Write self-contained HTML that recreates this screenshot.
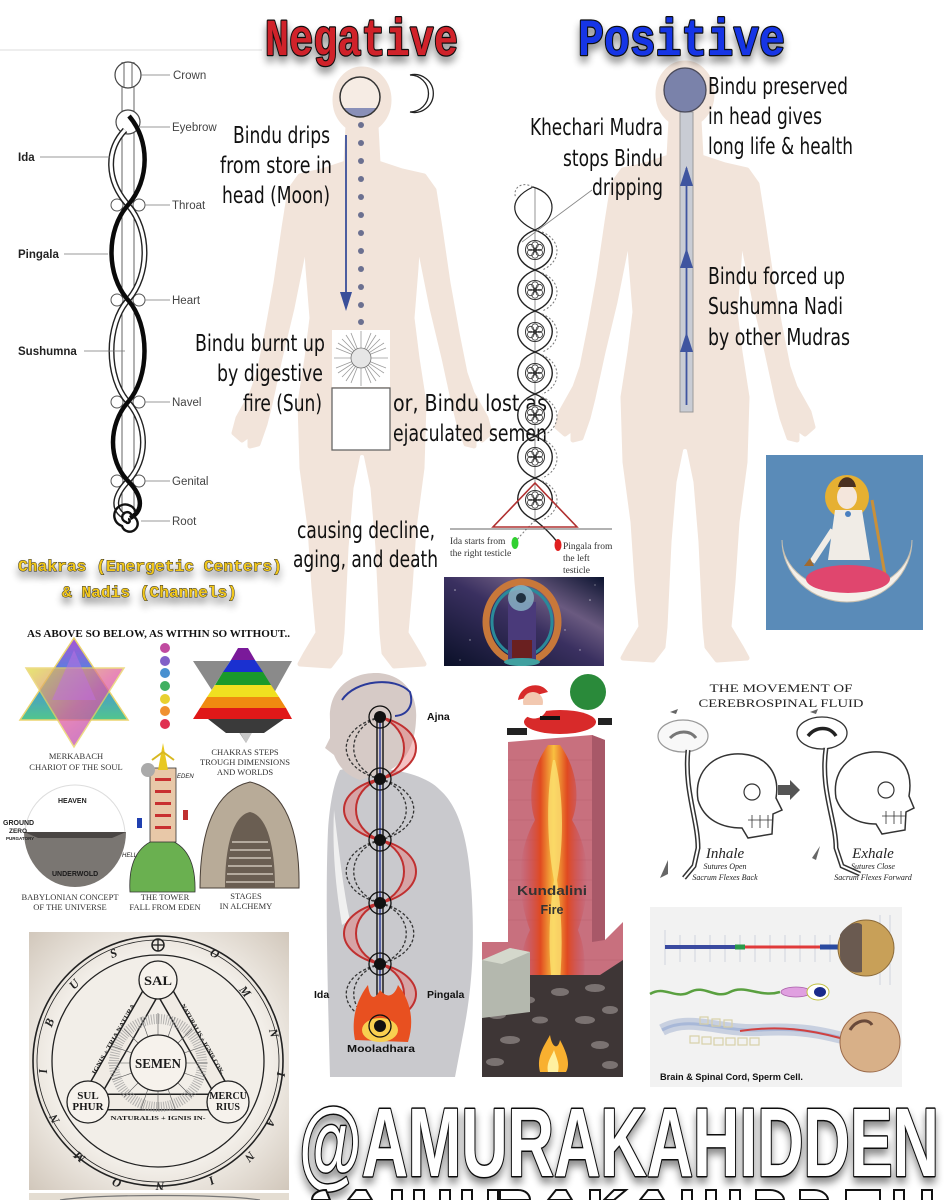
<!DOCTYPE html>
<html><head><meta charset="utf-8"><style>
html,body{margin:0;padding:0;background:#fff;width:944px;height:1200px;overflow:hidden;}
svg{display:block;}
</style></head><body>
<svg width="944" height="1200" viewBox="0 0 944 1200" xmlns="http://www.w3.org/2000/svg" overflow="hidden">
<defs>
<filter id="sh" x="-20%" y="-40%" width="140%" height="200%"><feGaussianBlur in="SourceAlpha" stdDeviation="4"/><feOffset dx="0" dy="6"/><feComponentTransfer><feFuncA type="linear" slope="0.45"/></feComponentTransfer><feMerge><feMergeNode/><feMergeNode in="SourceGraphic"/></feMerge></filter>
<linearGradient id="neb" x1="0" y1="1" x2="1" y2="0"><stop offset="0" stop-color="#0a1028"/><stop offset="0.5" stop-color="#3a3060"/><stop offset="0.7" stop-color="#6a5a80"/><stop offset="1" stop-color="#0c1430"/></linearGradient>
<linearGradient id="mkU" x1="0" y1="0" x2="0" y2="1"><stop offset="0" stop-color="#a040d0"/><stop offset="0.5" stop-color="#3080e0"/><stop offset="1" stop-color="#40c080"/></linearGradient>
<linearGradient id="mkD" x1="0" y1="0" x2="1" y2="1"><stop offset="0" stop-color="#e0e040"/><stop offset="0.5" stop-color="#e060a0"/><stop offset="1" stop-color="#a040c0"/></linearGradient>
<radialGradient id="semBg" cx="0.5" cy="0.5" r="0.7"><stop offset="0.6" stop-color="#f2eee8"/><stop offset="1" stop-color="#d2c8bc"/></radialGradient>
<linearGradient id="fireG" x1="0" y1="0" x2="1" y2="0"><stop offset="0" stop-color="#c84050" stop-opacity="0"/><stop offset="0.3" stop-color="#e04a20"/><stop offset="0.5" stop-color="#f8c040"/><stop offset="0.7" stop-color="#e04a20"/><stop offset="1" stop-color="#c84050" stop-opacity="0"/></linearGradient>
<g id="lotus"><circle r="9.5" fill="#fff" stroke="#333" stroke-width="1"/><circle cx="0" cy="-5" r="3.2" fill="none" stroke="#333" stroke-width="0.8"/><circle cx="4.3" cy="-2.5" r="3.2" fill="none" stroke="#333" stroke-width="0.8"/><circle cx="4.3" cy="2.5" r="3.2" fill="none" stroke="#333" stroke-width="0.8"/><circle cx="0" cy="5" r="3.2" fill="none" stroke="#333" stroke-width="0.8"/><circle cx="-4.3" cy="2.5" r="3.2" fill="none" stroke="#333" stroke-width="0.8"/><circle cx="-4.3" cy="-2.5" r="3.2" fill="none" stroke="#333" stroke-width="0.8"/><circle r="1.8" fill="#333"/></g>
<g id="body"><ellipse cx="0" cy="32" rx="29" ry="33"/><polygon stroke-linejoin="round" stroke-width="5" points="14,58 16,95 40,103 62,108 72,122 78,160 86,215 95,265 103,305 110,325 124,350 128,365 120,372 112,366 112,378 104,376 97,356 92,336 82,290 70,240 60,190 56,168 54,200 50,250 55,290 62,335 60,400 52,460 48,520 44,565 56,585 62,596 32,598 22,585 20,565 16,480 11,420 4,386 0,384 -4,386 -11,420 -16,480 -20,565 -22,585 -32,598 -62,596 -56,585 -44,565 -48,520 -52,460 -60,400 -62,335 -55,290 -50,250 -54,200 -56,168 -60,190 -70,240 -82,290 -92,336 -97,356 -104,376 -112,378 -112,366 -120,372 -128,365 -124,350 -110,325 -103,305 -95,265 -86,215 -78,160 -72,122 -62,108 -40,103 -16,95 -14,58"/></g>
<clipPath id="headClip"><circle cx="360" cy="97" r="20"/></clipPath>
</defs>

<rect width="944" height="1200" fill="#fff"/>
<line x1="0" y1="50" x2="262" y2="50" stroke="#e8e8e8" stroke-width="1.5"/>

<!-- bodies -->
<use href="#body" x="362" y="68" fill="#f2e4da" stroke="#f2e4da"/>
<use href="#body" x="685" y="62" fill="#f2e4da" stroke="#f2e4da"/>

<!-- header -->
<g filter="url(#sh)" font-family="'Liberation Mono', monospace" font-weight="bold" font-size="52" stroke="#111" stroke-width="2.5" paint-order="stroke" stroke-linejoin="round">
<text x="265" y="55" fill="#d0202a" textLength="193" lengthAdjust="spacingAndGlyphs">Negative</text>
<text x="578" y="55" fill="#1236e6" textLength="207" lengthAdjust="spacingAndGlyphs">Positive</text>
</g>

<!-- left head -->
<circle cx="360" cy="97" r="20" fill="#f6ece4"/>
<rect x="330" y="108" width="60" height="20" fill="#8a90b8" clip-path="url(#headClip)"/>
<circle cx="360" cy="97" r="20" fill="none" stroke="#333" stroke-width="1.5"/>
<path d="M410,75 A19,19 0 1 1 410,112 A15,15 0 1 0 410,75 Z" fill="#fff" stroke="#222" stroke-width="1.3"/>
<g fill="#6b7090">
<circle cx="361" cy="125" r="3"/><circle cx="361" cy="143" r="3"/><circle cx="361" cy="161" r="3"/><circle cx="361" cy="179" r="3"/><circle cx="361" cy="197" r="3"/><circle cx="361" cy="215" r="3"/><circle cx="361" cy="233" r="3"/><circle cx="361" cy="251" r="3"/><circle cx="361" cy="269" r="3"/><circle cx="361" cy="287" r="3"/><circle cx="361" cy="305" r="3"/><circle cx="361" cy="322" r="3"/>
</g>
<line x1="346" y1="135" x2="346" y2="296" stroke="#3a4f9a" stroke-width="1.8"/>
<polygon points="340,292 352,292 346,311" fill="#3a4f9a"/>
<rect x="332" y="330" width="58" height="57" fill="#fff"/>
<g stroke="#9a9a9a" stroke-width="0.8">
<line x1="361" y1="331" x2="361" y2="386"/><line x1="334" y1="358" x2="388" y2="358"/><line x1="342" y1="339" x2="380" y2="377"/><line x1="380" y1="339" x2="342" y2="377"/>
<line x1="351" y1="333" x2="371" y2="383"/><line x1="371" y1="333" x2="351" y2="383"/><line x1="336" y1="348" x2="386" y2="368"/><line x1="336" y1="368" x2="386" y2="348"/>
<line x1="346" y1="335" x2="376" y2="381"/><line x1="376" y1="335" x2="346" y2="381"/><line x1="338" y1="343" x2="384" y2="373"/><line x1="338" y1="373" x2="384" y2="343"/>
</g>
<circle cx="361" cy="358" r="10" fill="#e6e6e6" stroke="#777" stroke-width="0.8"/>
<rect x="332" y="388" width="58" height="62" fill="#fff" stroke="#666" stroke-width="1.3"/>

<!-- right head -->
<rect x="680" y="112" width="13" height="300" fill="#c9ccd4" stroke="#9a9a9a" stroke-width="1"/>
<ellipse cx="685" cy="90" rx="21" ry="22" fill="#7a82aa" stroke="#4a4a5a" stroke-width="1.3"/>
<line x1="686.5" y1="168" x2="686.5" y2="405" stroke="#3f55a0" stroke-width="1.8"/>
<polygon points="680,186 693,186 686.5,166" fill="#3f55a0"/>
<polygon points="680,268 693,268 686.5,248" fill="#3f55a0"/>
<polygon points="680,352 693,352 686.5,332" fill="#3f55a0"/>

<!-- body texts -->
<g font-family="'DejaVu Sans Condensed','DejaVu Sans','Liberation Sans',sans-serif" font-size="23" fill="#111">
<text x="233" y="143" textLength="97" lengthAdjust="spacingAndGlyphs">Bindu drips</text>
<text x="220" y="173" textLength="112" lengthAdjust="spacingAndGlyphs">from store in</text>
<text x="222" y="203" textLength="108" lengthAdjust="spacingAndGlyphs">head (Moon)</text>
<text x="195" y="351" textLength="130" lengthAdjust="spacingAndGlyphs">Bindu burnt up</text>
<text x="217" y="381" textLength="106" lengthAdjust="spacingAndGlyphs">by digestive</text>
<text x="243" y="411" textLength="79" lengthAdjust="spacingAndGlyphs">fire (Sun)</text>
<text x="393" y="411" textLength="154" lengthAdjust="spacingAndGlyphs">or, Bindu lost as</text>
<text x="393" y="441" textLength="154" lengthAdjust="spacingAndGlyphs">ejaculated semen</text>
<text x="297" y="538" textLength="138" lengthAdjust="spacingAndGlyphs">causing decline,</text>
<text x="293" y="567" textLength="145" lengthAdjust="spacingAndGlyphs">aging, and death</text>
<text x="530" y="135" textLength="133" lengthAdjust="spacingAndGlyphs">Khechari Mudra</text>
<text x="563" y="166" textLength="100" lengthAdjust="spacingAndGlyphs">stops Bindu</text>
<text x="592" y="195" textLength="71" lengthAdjust="spacingAndGlyphs">dripping</text>
<text x="708" y="94" textLength="140" lengthAdjust="spacingAndGlyphs">Bindu preserved</text>
<text x="708" y="124" textLength="114" lengthAdjust="spacingAndGlyphs">in head gives</text>
<text x="708" y="154" textLength="145" lengthAdjust="spacingAndGlyphs">long life &amp; health</text>
<text x="708" y="284" textLength="137" lengthAdjust="spacingAndGlyphs">Bindu forced up</text>
<text x="708" y="314" textLength="135" lengthAdjust="spacingAndGlyphs">Sushumna Nadi</text>
<text x="708" y="345" textLength="142" lengthAdjust="spacingAndGlyphs">by other Mudras</text>
</g>

<!-- left chakra diagram -->
<g fill="none" stroke="#555" stroke-width="0.9">
<line x1="122" y1="62" x2="122" y2="512"/><line x1="134" y1="62" x2="134" y2="512"/>
<line x1="128" y1="62" x2="128" y2="88"/>
</g>
<circle cx="128" cy="75" r="13" fill="#fff" stroke="#444" stroke-width="1.2"/>
<line x1="124" y1="62" x2="124" y2="88" stroke="#555" stroke-width="0.9"/><line x1="132" y1="62" x2="132" y2="88" stroke="#555" stroke-width="0.9"/>
<circle cx="128" cy="122" r="12" fill="#fff" stroke="#444" stroke-width="1.2"/>
<g fill="#fff" stroke="#555" stroke-width="1">
<circle cx="117" cy="205" r="6"/><circle cx="139" cy="205" r="6"/>
<circle cx="117" cy="300" r="6"/><circle cx="139" cy="300" r="6"/>
<circle cx="117" cy="402" r="6"/><circle cx="139" cy="402" r="6"/>
<circle cx="117" cy="481" r="6"/><circle cx="139" cy="481" r="6"/>
</g>
<path d="M125,130 C106,150 106,180 128,205 C150,230 150,275 128,300 C106,325 106,377 128,402 C148,425 148,460 128,481 C112,498 114,510 124,516" fill="none" stroke="#222" stroke-width="6"/>
<path d="M125,130 C106,150 106,180 128,205 C150,230 150,275 128,300 C106,325 106,377 128,402 C148,425 148,460 128,481 C112,498 114,510 124,516" fill="none" stroke="#fff" stroke-width="3.2"/>
<path d="M129,116 C150,140 150,180 128,205 C106,230 106,275 128,300 C150,325 150,377 128,402 C108,425 108,460 128,481 C145,498 142,512 130,518" fill="none" stroke="#0a0a0a" stroke-width="4.5"/>
<path d="M128,521 m0,-2 a2,2 0 1 1 -2,3 a5,5 0 1 1 6,-6 a8,8 0 1 1 -10,10 a11,11 0 1 1 14,-13" fill="none" stroke="#111" stroke-width="2.4"/>
<g stroke="#777" stroke-width="0.8">
<line x1="141" y1="75" x2="170" y2="75"/><line x1="140" y1="127" x2="170" y2="127"/><line x1="145" y1="205" x2="170" y2="205"/><line x1="145" y1="300" x2="170" y2="300"/><line x1="145" y1="402" x2="170" y2="402"/><line x1="145" y1="481" x2="170" y2="481"/><line x1="141" y1="521" x2="170" y2="521"/>
<line x1="40" y1="157" x2="110" y2="157"/><line x1="64" y1="254" x2="108" y2="254"/><line x1="84" y1="351" x2="125" y2="351"/>
</g>
<g font-family="'Liberation Sans',Arial,sans-serif" font-size="11.5" fill="#444">
<text x="173" y="79">Crown</text><text x="172" y="131">Eyebrow</text><text x="172" y="209">Throat</text><text x="172" y="304">Heart</text><text x="172" y="406">Navel</text><text x="172" y="485">Genital</text><text x="172" y="525">Root</text>
<text x="18" y="161" font-weight="bold" fill="#222">Ida</text><text x="18" y="258" font-weight="bold" fill="#222">Pingala</text><text x="18" y="355" font-weight="bold" fill="#222">Sushumna</text>
</g>
<g font-family="'Liberation Mono',monospace" font-weight="bold" font-size="16" fill="#f2c81c" stroke="#2a2a2a" stroke-width="0.9" paint-order="stroke" filter="url(#sh)">
<text x="18" y="571" textLength="264" lengthAdjust="spacingAndGlyphs">Chakras (Energetic Centers)</text>
<text x="62" y="597" textLength="175" lengthAdjust="spacingAndGlyphs">&amp; Nadis (Channels)</text>
</g>

<!-- middle helix -->
<line x1="535" y1="187" x2="535" y2="522" stroke="#666" stroke-width="0.7"/>
<path d="M533,187 C560,195 556,220 535,230 C512,220 505,200 533,187 Z" fill="none" stroke="#222" stroke-width="1.2"/>
<path d="M533,187 C520,180 512,190 516,198" fill="none" stroke="#777" stroke-width="1" stroke-dasharray="2,2"/>
<g fill="none" stroke="#222" stroke-width="1.4">
<path d="M535,230 C512,238 512,262 535,270 C558,262 558,238 535,230"/>
<path d="M535,270 C512,279 512,302 535,311 C558,302 558,279 535,270"/>
<path d="M535,311 C512,320 512,343 535,352 C558,343 558,320 535,311"/>
<path d="M535,352 C512,361 512,385 535,394 C558,385 558,361 535,352"/>
<path d="M535,394 C512,403 512,427 535,436 C558,427 558,403 535,394"/>
<path d="M535,436 C512,445 512,469 535,478 C558,469 558,445 535,436"/>
<path d="M535,478 C512,487 512,511 535,520 C558,511 558,487 535,478"/>
<path d="M535,520 C545,528 552,535 558,543"/>
</g>
<g fill="none" stroke="#777" stroke-width="1" stroke-dasharray="2,2">
<path d="M542,232 C562,240 562,262 542,270"/><path d="M542,273 C562,281 562,303 542,311"/><path d="M542,314 C562,322 562,344 542,352"/><path d="M542,355 C562,363 562,386 542,394"/><path d="M542,397 C562,405 562,428 542,436"/><path d="M542,439 C562,447 562,470 542,478"/><path d="M542,481 C562,489 562,512 542,520"/>
<path d="M535,520 C528,528 520,535 515,543"/>
</g>
<use href="#lotus" x="535" y="250"/><use href="#lotus" x="535" y="290"/><use href="#lotus" x="535" y="332"/><use href="#lotus" x="535" y="373"/><use href="#lotus" x="535" y="415"/><use href="#lotus" x="535" y="457"/><use href="#lotus" x="535" y="500"/>
<polygon points="535,483 493,527 577,527" fill="none" stroke="#b03030" stroke-width="1.6"/>
<line x1="450" y1="529" x2="612" y2="529" stroke="#666" stroke-width="1"/>
<ellipse cx="515" cy="543" rx="3.5" ry="6" fill="#30d030"/>
<ellipse cx="558" cy="545" rx="3.5" ry="6" fill="#e02020"/>
<line x1="592" y1="190" x2="522" y2="242" stroke="#888" stroke-width="0.8"/>
<g font-family="'Liberation Serif',serif" font-size="9.5" fill="#333">
<text x="450" y="544">Ida starts from</text><text x="450" y="556">the right testicle</text>
<text x="563" y="549">Pingala from</text><text x="563" y="561">the left</text><text x="563" y="573">testicle</text>
</g>

<!-- cosmic image -->
<rect x="444" y="577" width="160" height="89" fill="url(#neb)"/>
<g fill="#fff" opacity="0.6"><circle cx="455" cy="590" r="0.8"/><circle cx="470" cy="640" r="0.7"/><circle cx="590" cy="600" r="0.8"/><circle cx="580" cy="650" r="0.7"/><circle cx="460" cy="660" r="0.6"/><circle cx="595" cy="585" r="0.6"/><circle cx="565" cy="630" r="0.7"/></g>
<ellipse cx="522" cy="622" rx="36" ry="40" fill="none" stroke="#c8783a" stroke-width="7"/>
<ellipse cx="522" cy="622" rx="30" ry="34" fill="none" stroke="#2a8a9a" stroke-width="3"/>
<rect x="508" y="602" width="28" height="58" fill="#4a3a7a"/>
<rect x="512" y="640" width="20" height="18" fill="#6a2020"/>
<circle cx="521" cy="598" r="13" fill="#8ab8c8" opacity="0.8"/><circle cx="521" cy="598" r="5" fill="#203040"/>
<ellipse cx="522" cy="662" rx="18" ry="4" fill="#40a0a0"/>

<!-- Shiva -->
<rect x="766" y="455" width="157" height="175" fill="#5a8bb8"/>
<circle cx="847" cy="497" r="22" fill="#e6b032"/>
<path d="M782,540 A65,62 0 0 0 912,540 A60,47 0 0 1 782,540 Z" fill="#f4f0ea" stroke="#c8c0b0" stroke-width="1"/>
<path d="M835,510 L862,510 L870,560 L828,560 Z" fill="#f0ece6"/>
<line x1="872" y1="500" x2="885" y2="575" stroke="#c8903a" stroke-width="3"/>
<path d="M833,530 L812,562" stroke="#f0ece6" stroke-width="6"/>
<ellipse cx="848" cy="579" rx="42" ry="14" fill="#e0466e"/>
<ellipse cx="847" cy="497" rx="10" ry="12" fill="#f4e6dc"/>
<path d="M838,487 C840,474 854,474 856,487 Z" fill="#4a3020"/>
<circle cx="848" cy="514" r="3" fill="#4a80c0"/>
<path d="M804,566 l6,-8 l4,8 z" fill="#a06a30"/>

<!-- lower-left collage -->
<text x="27" y="637" font-family="'Liberation Serif',serif" font-weight="bold" font-size="10" fill="#111" textLength="263" lengthAdjust="spacingAndGlyphs">AS ABOVE SO BELOW, AS WITHIN SO WITHOUT..</text>
<polygon points="74,638 20,720 128,720" fill="url(#mkU)" opacity="0.9" stroke="#e8d060" stroke-width="1.5"/>
<polygon points="74,747 26,668 124,668" fill="url(#mkD)" opacity="0.75" stroke="#e8d060" stroke-width="1.5"/>
<polygon points="74,650 52,700 96,700" fill="#c070e0" opacity="0.5"/>
<g stroke="#fff" stroke-width="1"><circle cx="165" cy="648" r="5.5" fill="#c04aa0"/><circle cx="165" cy="661" r="5.5" fill="#8060c8"/><circle cx="165" cy="673" r="5.5" fill="#4890d0"/><circle cx="165" cy="686" r="5.5" fill="#40b060"/><circle cx="165" cy="699" r="5.5" fill="#e8d030"/><circle cx="165" cy="711" r="5.5" fill="#f09030"/><circle cx="165" cy="724" r="5.5" fill="#e03050"/></g>
<polygon points="193,661 292,661 246,743" fill="#8a8a8a"/>
<polygon points="232,719 260,719 246,743" fill="#c8c8c8"/>
<polygon points="208,719 284,719 264,733 226,733" fill="#3a3a3a"/>
<polygon points="243,641 193,719 292,719" fill="#fff"/>
<g>
<polygon points="238,648 248,648 255,660 231,660" fill="#7a1a9a"/>
<polygon points="231,660 255,660 263,672 223,672" fill="#1a30d0"/>
<polygon points="223,672 263,672 271,685 215,685" fill="#1a9a2a"/>
<polygon points="215,685 271,685 279,697 207,697" fill="#f0e020"/>
<polygon points="207,697 279,697 286,708 200,708" fill="#f08a10"/>
<polygon points="200,708 286,708 292,719 193,719" fill="#e01818"/>
</g>
<g font-family="'Liberation Serif',serif" font-size="8.5" fill="#333" text-anchor="middle">
<text x="76" y="759">MERKABACH</text><text x="76" y="770">CHARIOT OF THE SOUL</text>
<text x="245" y="755">CHAKRAS STEPS</text><text x="245" y="765">TROUGH DIMENSIONS</text><text x="245" y="775">AND WORLDS</text>
<text x="70" y="900">BABYLONIAN CONCEPT</text><text x="70" y="910">OF THE UNIVERSE</text>
<text x="165" y="900">THE TOWER</text><text x="165" y="910">FALL FROM EDEN</text>
<text x="246" y="899">STAGES</text><text x="246" y="909">IN ALCHEMY</text>
</g>
<circle cx="75" cy="835" r="50" fill="none" stroke="#ddd" stroke-width="1"/>
<path d="M24,832 A51,55 0 0 0 126,832 Z" fill="#7a7672"/>
<path d="M24,832 L126,832 L112,838 L38,838 Z" fill="#4a4644"/>
<g font-family="'Liberation Sans',sans-serif" font-weight="bold" fill="#222">
<text x="58" y="803" font-size="7">HEAVEN</text><text x="3" y="825" font-size="7">GROUND</text><text x="9" y="833" font-size="6.5">ZERO</text><text x="6" y="840" font-size="4.5">PURGATORY</text><text x="52" y="876" font-size="7" fill="#1a1a1a">UNDERWOLD</text>
</g>
<path d="M130,892 C128,860 140,842 162,838 C185,842 196,860 195,892 Z" fill="#6ab050" stroke="#333" stroke-width="0.8"/>
<rect x="150" y="768" width="26" height="74" fill="#e8c8a8" stroke="#333" stroke-width="0.8"/>
<g fill="#c83030"><rect x="155" y="778" width="16" height="3"/><rect x="155" y="790" width="16" height="3"/><rect x="155" y="802" width="16" height="3"/><rect x="155" y="814" width="16" height="3"/><rect x="155" y="826" width="16" height="3"/></g>
<path d="M163,743 L158,770 L168,770 Z" fill="#e8c820"/>
<path d="M152,760 L163,752 L174,760" stroke="#d8b820" stroke-width="2" fill="none"/>
<circle cx="148" cy="770" r="7" fill="#aaa"/>
<rect x="137" y="818" width="5" height="10" fill="#2040b0"/><rect x="183" y="810" width="5" height="10" fill="#c03030"/>
<g font-family="'Liberation Sans',sans-serif" font-style="italic" font-size="6" fill="#222"><text x="177" y="778">EDEN</text><text x="122" y="857">HELL</text></g>
<path d="M200,888 C200,830 215,790 250,782 C285,790 300,830 299,888 Z" fill="#b8ab98" stroke="#4a4038" stroke-width="1"/>
<path d="M225,888 C225,840 235,815 250,812 C265,815 275,840 275,888 Z" fill="#6a5e52"/>
<g stroke="#e0d8cc" stroke-width="1.2"><line x1="230" y1="850" x2="270" y2="850"/><line x1="229" y1="858" x2="271" y2="858"/><line x1="228" y1="866" x2="272" y2="866"/><line x1="227" y1="874" x2="273" y2="874"/><line x1="226" y1="882" x2="274" y2="882"/><line x1="232" y1="842" x2="268" y2="842"/></g>

<!-- semen diagram -->
<rect x="29" y="932" width="260" height="258" fill="url(#semBg)"/>
<circle cx="158" cy="1061" r="125" fill="none" stroke="#222" stroke-width="1.6"/>
<circle cx="158" cy="1061" r="121" fill="none" stroke="#222" stroke-width="0.8"/>
<circle cx="158" cy="1061" r="106" fill="none" stroke="#222" stroke-width="1.3"/>
<g font-family="'Liberation Serif',serif" font-weight="bold" font-style="italic" font-size="12" fill="#222" text-anchor="middle">
<text transform="translate(213,957) rotate(27)">O</text>
<text transform="translate(242,994) rotate(50)">M</text>
<text transform="translate(270,1034) rotate(75)">N</text>
<text transform="translate(277,1074) rotate(95)">I</text>
<text transform="translate(267,1121) rotate(118)">A</text>
<text transform="translate(247,1154) rotate(135)">N</text>
<text transform="translate(210,1177) rotate(155)">I</text>
<text transform="translate(160,1182) rotate(179)">N</text>
<text transform="translate(118,1179) rotate(199)">O</text>
<text transform="translate(82,1154) rotate(220)">M</text>
<text transform="translate(58,1117) rotate(242)">N</text>
<text transform="translate(47,1071) rotate(266)">I</text>
<text transform="translate(53,1024) rotate(291)">B</text>
<text transform="translate(77,987) rotate(314)">U</text>
<text transform="translate(115,957) rotate(338)">S</text>
</g>
<circle cx="158" cy="945" r="6" fill="none" stroke="#222" stroke-width="1.5"/><line x1="152" y1="945" x2="164" y2="945" stroke="#222" stroke-width="1.3"/><line x1="158" y1="939" x2="158" y2="951" stroke="#222" stroke-width="1.3"/>
<polygon points="158,980 88,1102 228,1102" fill="none" stroke="#222" stroke-width="17" stroke-linejoin="miter"/>
<polygon points="158,980 88,1102 228,1102" fill="none" stroke="#f0ebe4" stroke-width="14" stroke-linejoin="miter"/>
<g stroke="#555" stroke-width="0.6">
<line x1="158" y1="1013" x2="158" y2="1035"/><line x1="158" y1="1091" x2="158" y2="1111"/><line x1="130" y1="1063" x2="108" y2="1063"/><line x1="186" y1="1063" x2="208" y2="1063"/>
<line x1="138" y1="1043" x2="124" y2="1029"/><line x1="178" y1="1043" x2="192" y2="1029"/><line x1="138" y1="1083" x2="124" y2="1097"/><line x1="178" y1="1083" x2="192" y2="1097"/>
<line x1="148" y1="1037" x2="141" y2="1017"/><line x1="168" y1="1037" x2="175" y2="1017"/><line x1="148" y1="1089" x2="141" y2="1109"/><line x1="168" y1="1089" x2="175" y2="1109"/>
<line x1="132" y1="1053" x2="112" y2="1046"/><line x1="184" y1="1053" x2="204" y2="1046"/><line x1="132" y1="1073" x2="112" y2="1080"/><line x1="184" y1="1073" x2="204" y2="1080"/>
</g>
<circle cx="158" cy="1063" r="44" fill="none" stroke="#999" stroke-width="10" stroke-dasharray="1,1.5" opacity="0.7"/>
<circle cx="158" cy="1063" r="28" fill="#f6f2ec" stroke="#222" stroke-width="1.3"/>
<circle cx="158" cy="980" r="19" fill="#f6f2ec" stroke="#222" stroke-width="1.3"/>
<circle cx="88" cy="1102" r="21" fill="#f6f2ec" stroke="#222" stroke-width="1.3"/>
<circle cx="228" cy="1102" r="21" fill="#f6f2ec" stroke="#222" stroke-width="1.3"/>
<g font-family="'Liberation Serif',serif" font-weight="bold" fill="#1a1a1a" text-anchor="middle">
<text x="158" y="985" font-size="13" textLength="28" lengthAdjust="spacingAndGlyphs">SAL</text>
<text x="158" y="1068" font-size="14" textLength="46" lengthAdjust="spacingAndGlyphs">SEMEN</text>
<text x="88" y="1099" font-size="11">SUL</text><text x="88" y="1110" font-size="11">PHUR</text>
<text x="228" y="1099" font-size="10">MERCU</text><text x="228" y="1110" font-size="10">RIUS</text>
<text x="158" y="1120" font-size="6.5" textLength="95" lengthAdjust="spacingAndGlyphs">NATURALIS + IGNIS IN-</text>
<text transform="translate(115,1040) rotate(-60)" font-size="6" textLength="80" lengthAdjust="spacingAndGlyphs">IGNIS + TRIA NATURA</text>
<text transform="translate(201,1040) rotate(60)" font-size="6" textLength="80" lengthAdjust="spacingAndGlyphs">NATURALIS + IGNIS CON-</text>
</g>
<rect x="29" y="1193" width="260" height="7" fill="#e4ddd2"/>
<path d="M60,1200 C100,1194 220,1194 260,1200" stroke="#777" stroke-width="1.2" fill="none"/>

<!-- profile chakra figure -->
<path d="M340,770 C360,764 420,768 440,790 C465,812 470,860 472,900 C475,960 470,1000 462,1040 L455,1077 L330,1077 C328,1000 325,900 328,830 C330,800 335,780 340,770 Z" fill="#c9c9cd"/>
<path d="M334,810 C340,860 345,900 350,920 L342,925 C336,890 332,850 334,810 Z" fill="#f0f0f0"/>
<path d="M330,720 C328,690 350,672 378,673 C405,675 418,695 416,720 C415,745 405,765 385,772 L360,780 C345,775 338,765 334,755 L325,748 L330,738 Z" fill="#d6cac6"/>
<path d="M342,700 C355,680 395,676 410,692 C414,705 408,715 395,716" fill="none" stroke="#2a3a9a" stroke-width="2"/>
<line x1="377" y1="717" x2="377" y2="1030" stroke="#111" stroke-width="1.4"/>
<line x1="383" y1="717" x2="383" y2="1030" stroke="#111" stroke-width="1.4"/>
<line x1="380" y1="717" x2="380" y2="1030" stroke="#2a3a9a" stroke-width="1.4"/>
<g fill="rgba(230,120,120,0.45)" stroke="#c03030" stroke-width="2">
<path d="M380,717 C428,728 428,768 380,779 C412,768 412,728 380,717 Z"/>
<path d="M380,779 C332,790 332,829 380,840 C348,829 348,790 380,779 Z"/>
<path d="M380,840 C428,851 428,892 380,903 C412,892 412,851 380,840 Z"/>
<path d="M380,903 C332,914 332,953 380,964 C348,953 348,914 380,903 Z"/>
<path d="M380,964 C428,975 428,1013 380,1024 C412,1013 412,975 380,964 Z"/>
</g>
<g fill="none" stroke="#333" stroke-width="1.3" stroke-dasharray="3,2">
<path d="M380,717 C335,728 335,768 380,779"/><path d="M380,717 C345,728 345,768 380,779"/>
<path d="M380,779 C425,790 425,829 380,840"/><path d="M380,779 C415,790 415,829 380,840"/>
<path d="M380,840 C335,851 335,892 380,903"/><path d="M380,840 C345,851 345,892 380,903"/>
<path d="M380,903 C425,914 425,953 380,964"/><path d="M380,903 C415,914 415,953 380,964"/>
<path d="M380,964 C335,975 335,1013 380,1024"/><path d="M380,964 C345,975 345,1013 380,1024"/>
</g>
<path d="M355,1040 C350,1015 360,995 368,985 C370,1000 375,1000 380,990 C388,1000 395,995 398,985 C410,1000 415,1020 408,1042 Z" fill="#e85020"/>
<ellipse cx="380" cy="1030" rx="18" ry="12" fill="#f8d050"/>
<g fill="#111"><circle cx="380" cy="717" r="6"/><circle cx="380" cy="779" r="6"/><circle cx="380" cy="840" r="6"/><circle cx="380" cy="903" r="6"/><circle cx="380" cy="964" r="6"/><circle cx="380" cy="1026" r="6"/></g>
<g fill="none" stroke="#111" stroke-width="1.3"><circle cx="380" cy="717" r="11"/><circle cx="380" cy="779" r="11"/><circle cx="380" cy="840" r="11"/><circle cx="380" cy="903" r="11"/><circle cx="380" cy="964" r="11"/><circle cx="380" cy="1026" r="11"/></g>
<g font-family="'Liberation Sans',sans-serif" font-weight="bold" font-size="10.5" fill="#111">
<text x="427" y="720">Ajna</text><text x="314" y="998">Ida</text><text x="427" y="998">Pingala</text><text x="347" y="1052" textLength="68" lengthAdjust="spacingAndGlyphs">Mooladhara</text>
</g>

<!-- chimney -->
<polygon points="508,742 592,735 605,740 605,940 623,922 623,1077 482,1077 482,942 508,942" fill="#c8707e"/>
<polygon points="592,735 605,740 605,940 592,942" fill="#a85868"/>
<g stroke="#b05868" stroke-width="0.6" opacity="0.6">
<line x1="508" y1="760" x2="592" y2="760"/><line x1="508" y1="780" x2="592" y2="780"/><line x1="508" y1="800" x2="592" y2="800"/><line x1="508" y1="820" x2="592" y2="820"/><line x1="508" y1="840" x2="592" y2="840"/><line x1="508" y1="860" x2="592" y2="860"/><line x1="508" y1="880" x2="592" y2="880"/><line x1="508" y1="900" x2="592" y2="900"/><line x1="508" y1="920" x2="592" y2="920"/><line x1="482" y1="960" x2="623" y2="960"/>
</g>
<path d="M548,745 C530,770 528,800 535,820 C518,850 515,890 530,930 C515,960 520,990 540,1040 L568,1040 C585,990 590,960 578,930 C592,890 590,850 572,820 C580,800 578,770 560,745 Z" fill="url(#fireG)"/>
<path d="M553,760 C545,800 548,850 554,880 C548,920 548,960 554,1000 L558,1000 C563,960 563,920 557,880 C563,850 565,800 555,760 Z" fill="#fbe070" opacity="0.8"/>
<path d="M482,975 L530,975 L600,975 L623,960 L623,1077 L482,1077 Z" fill="#3e3636"/>
<g fill="#8a8280" opacity="0.8"><ellipse cx="500" cy="990" rx="9" ry="4"/><ellipse cx="525" cy="1000" rx="10" ry="4"/><ellipse cx="560" cy="992" rx="9" ry="4"/><ellipse cx="595" cy="988" rx="10" ry="4"/><ellipse cx="610" cy="1010" rx="8" ry="4"/><ellipse cx="497" cy="1015" rx="9" ry="4"/><ellipse cx="585" cy="1020" rx="10" ry="4"/><ellipse cx="510" cy="1040" rx="10" ry="4"/><ellipse cx="600" cy="1045" rx="9" ry="4"/><ellipse cx="495" cy="1062" rx="9" ry="4"/><ellipse cx="610" cy="1065" rx="8" ry="4"/><ellipse cx="540" cy="1020" rx="8" ry="3.5"/></g>
<path d="M540,1072 C536,1055 545,1045 550,1035 C552,1048 558,1050 560,1040 C568,1055 570,1065 566,1072 Z" fill="#f8b030"/>
<path d="M548,1072 C546,1062 552,1056 554,1050 C557,1060 560,1064 558,1072 Z" fill="#fff0a0"/>
<polygon points="482,960 510,948 530,952 530,1012 482,1018" fill="#b4b8ae"/>
<polygon points="482,960 510,948 530,952 502,964" fill="#d4d8cc"/>
<g font-family="'Liberation Sans',sans-serif" font-weight="bold" font-size="12.5" fill="#333" text-anchor="middle">
<text x="552" y="895" textLength="70" lengthAdjust="spacingAndGlyphs">Kundalini</text><text x="552" y="914">Fire</text>
</g>
<circle cx="588" cy="692" r="18" fill="#2a8a3a"/>
<ellipse cx="560" cy="722" rx="36" ry="12" fill="#d82a2a"/>
<path d="M518,700 C520,685 540,680 548,692 Z" fill="#d82a2a"/>
<circle cx="533" cy="702" r="10" fill="#f2c8b0"/>
<path d="M520,705 C522,722 545,724 548,705 Z" fill="#fff"/>
<rect x="507" y="728" width="20" height="7" fill="#222"/><rect x="598" y="718" width="14" height="7" fill="#222"/>
<rect x="540" y="716" width="20" height="4" fill="#111"/>

<!-- CSF -->
<g font-family="'Liberation Serif',serif" fill="#222" text-anchor="middle">
<text x="781" y="692" font-size="12" textLength="143" lengthAdjust="spacingAndGlyphs">THE MOVEMENT OF</text>
<text x="781" y="707" font-size="12" textLength="165" lengthAdjust="spacingAndGlyphs">CEREBROSPINAL FLUID</text>
<text x="725" y="858" font-size="15" font-style="italic">Inhale</text>
<text x="725" y="869" font-size="8" font-style="italic">Sutures Open</text>
<text x="725" y="880" font-size="8" font-style="italic">Sacrum Flexes Back</text>
<text x="873" y="858" font-size="15" font-style="italic">Exhale</text>
<text x="873" y="869" font-size="8" font-style="italic">Sutures Close</text>
<text x="873" y="880" font-size="8" font-style="italic">Sacrum Flexes Forward</text>
</g>
<ellipse cx="683" cy="736" rx="25" ry="16" fill="#f8f8f8" stroke="#999" stroke-width="1.2"/>
<path d="M670,738 C678,730 690,730 696,738" stroke="#777" stroke-width="3" fill="none"/>
<path d="M688,750 C684,790 698,820 698,848 L694,866 L684,878" fill="none" stroke="#333" stroke-width="5"/>
<path d="M688,750 C684,790 698,820 698,848 L694,866 L684,878" fill="none" stroke="#fff" stroke-width="2"/>
<path d="M698,800 C693,768 718,752 742,754 C768,756 780,775 776,798 L782,810 L773,814 L772,834 L748,838 L742,828 C722,828 704,820 698,800 Z" fill="#fff" stroke="#333" stroke-width="1.5"/>
<circle cx="752" cy="792" r="8" fill="none" stroke="#333" stroke-width="1.2"/>
<path d="M748,820 L772,820 M752,815 L752,828 M760,815 L760,828 M768,815 L768,828" stroke="#333" stroke-width="0.8"/>
<polygon points="778,785 790,785 790,780 800,790 790,800 790,795 778,795" fill="#555"/>
<ellipse cx="822" cy="733" rx="25" ry="16" fill="#fff" stroke="#333" stroke-width="1.3"/>
<path d="M808,736 C816,726 830,726 836,736" stroke="#222" stroke-width="3.5" fill="none"/>
<path d="M826,748 C820,790 836,820 836,848 L842,866 L860,874" fill="none" stroke="#333" stroke-width="5"/>
<path d="M826,748 C820,790 836,820 836,848 L842,866 L860,874" fill="none" stroke="#fff" stroke-width="2"/>
<path d="M836,798 C831,766 856,750 880,752 C904,754 913,773 909,796 L914,808 L906,812 L905,830 L882,834 L876,824 C858,824 842,816 836,798 Z" fill="#fff" stroke="#333" stroke-width="1.5"/>
<circle cx="886" cy="790" r="8" fill="none" stroke="#333" stroke-width="1.2"/>
<path d="M882,816 L905,816 M886,811 L886,824 M894,811 L894,824 M901,811 L901,824" stroke="#333" stroke-width="0.8"/>
<g fill="#666"><path d="M668,860 L660,878 L668,874 Z"/><path d="M812,858 L820,846 L816,860 Z"/><path d="M670,712 l8,-3 l-2,5 z"/><path d="M810,712 l8,-3 l-2,5 z"/></g>

<!-- brain & spinal image -->
<rect x="650" y="907" width="252" height="180" fill="#f2f2f2"/>
<g stroke="#d0d4de" stroke-width="1"><line x1="665" y1="930" x2="665" y2="965"/><line x1="680" y1="935" x2="680" y2="962"/><line x1="695" y1="935" x2="695" y2="962"/><line x1="710" y1="935" x2="710" y2="962"/><line x1="725" y1="935" x2="725" y2="962"/><line x1="740" y1="935" x2="740" y2="962"/><line x1="755" y1="935" x2="755" y2="962"/><line x1="770" y1="935" x2="770" y2="962"/><line x1="785" y1="935" x2="785" y2="962"/><line x1="800" y1="935" x2="800" y2="962"/><line x1="815" y1="935" x2="815" y2="962"/><line x1="830" y1="935" x2="830" y2="962"/><line x1="880" y1="915" x2="880" y2="985"/><line x1="890" y1="915" x2="890" y2="985"/></g>
<line x1="665" y1="947" x2="735" y2="947" stroke="#3a4aa0" stroke-width="4"/>
<line x1="735" y1="947" x2="745" y2="947" stroke="#2a9a4a" stroke-width="5"/>
<line x1="745" y1="947" x2="820" y2="947" stroke="#e03a3a" stroke-width="3"/>
<line x1="820" y1="947" x2="858" y2="947" stroke="#2a4aa0" stroke-width="5"/>
<circle cx="866" cy="948" r="28" fill="#c8a058" stroke="#8a6a3a" stroke-width="1"/>
<path d="M840,935 C845,925 858,920 862,925 L862,972 C850,975 840,965 840,955 Z" fill="#6a5a50"/>
<path d="M650,994 C665,985 675,1000 690,992 C705,984 715,1000 730,992 C745,984 760,998 780,992" fill="none" stroke="#5aa040" stroke-width="2.5"/>
<ellipse cx="796" cy="992" rx="15" ry="5" fill="#e0a0e0" stroke="#aa60aa" stroke-width="0.8"/>
<ellipse cx="818" cy="992" rx="11" ry="8" fill="#fff" stroke="#c0c040" stroke-width="1"/>
<ellipse cx="820" cy="992" rx="6" ry="5" fill="#1a2a8a"/>
<path d="M662,1030 C690,1015 720,1032 760,1030 C800,1028 820,1032 850,1040" fill="none" stroke="#c8d0e0" stroke-width="12"/>
<path d="M662,1030 C690,1015 720,1032 760,1030 C800,1028 820,1032 850,1040" fill="none" stroke="#a8b8d8" stroke-width="3"/>
<path d="M740,1031 C780,1025 810,1030 840,1038" fill="none" stroke="#d04040" stroke-width="2"/>
<g fill="none" stroke="#d8d0a8" stroke-width="1.2"><rect x="690" y="1036" width="9" height="7"/><rect x="702" y="1037" width="9" height="7"/><rect x="714" y="1038" width="9" height="7"/><rect x="726" y="1038" width="9" height="7"/><rect x="738" y="1038" width="9" height="7"/><rect x="750" y="1038" width="9" height="7"/><rect x="700" y="1017" width="8" height="7"/><rect x="712" y="1019" width="8" height="7"/><rect x="724" y="1020" width="8" height="7"/></g>
<circle cx="870" cy="1042" r="30" fill="#d8b088" stroke="#9a6a4a" stroke-width="1"/>
<path d="M850,1030 C856,1020 868,1018 872,1025" stroke="#6a4a3a" stroke-width="3" fill="none"/>
<text x="660" y="1080" font-family="'Liberation Sans',sans-serif" font-weight="bold" font-size="9" fill="#111" textLength="143" lengthAdjust="spacingAndGlyphs">Brain &amp; Spinal Cord, Sperm Cell.</text>

<!-- handle -->
<g font-family="'Liberation Sans',sans-serif" font-weight="bold" font-size="97" fill="#fff" stroke="#111" stroke-width="3" paint-order="stroke" stroke-linejoin="round" filter="url(#sh)">
<text x="299" y="1176" textLength="640" lengthAdjust="spacingAndGlyphs">@AMURAKAHIDDEN</text>
</g>
<!-- partial next line (letter tops) -->
<g fill="#fff" stroke="#111" stroke-width="2">
<path d="M312,1200 C312,1194 318,1190 326,1190 L330,1200 Z"/>
<path d="M348,1200 L356,1190 L366,1190 L372,1200 Z"/>
<rect x="392" y="1190" width="10" height="12"/><rect x="414" y="1190" width="10" height="12"/>
<rect x="440" y="1190" width="10" height="12"/><rect x="462" y="1190" width="10" height="12"/>
<rect x="488" y="1190" width="10" height="12"/><path d="M500,1190 L518,1190 C526,1190 530,1195 530,1200 L500,1200 Z"/>
<path d="M548,1200 L556,1190 L566,1190 L572,1200 Z"/>
<rect x="590" y="1190" width="10" height="12"/><path d="M604,1200 L614,1190 L626,1190 L614,1200 Z"/>
<path d="M640,1200 L648,1190 L658,1190 L664,1200 Z"/>
<rect x="682" y="1190" width="10" height="12"/><rect x="706" y="1190" width="10" height="12"/>
<rect x="730" y="1190" width="10" height="12"/>
<path d="M756,1190 L770,1190 C778,1190 784,1195 784,1200 L756,1200 Z"/>
<path d="M800,1190 L814,1190 C822,1190 828,1195 828,1200 L800,1200 Z"/>
<rect x="846" y="1190" width="34" height="12"/>
<rect x="894" y="1190" width="10" height="12"/><rect x="922" y="1190" width="10" height="12"/>
</g>
</svg>
</body></html>
